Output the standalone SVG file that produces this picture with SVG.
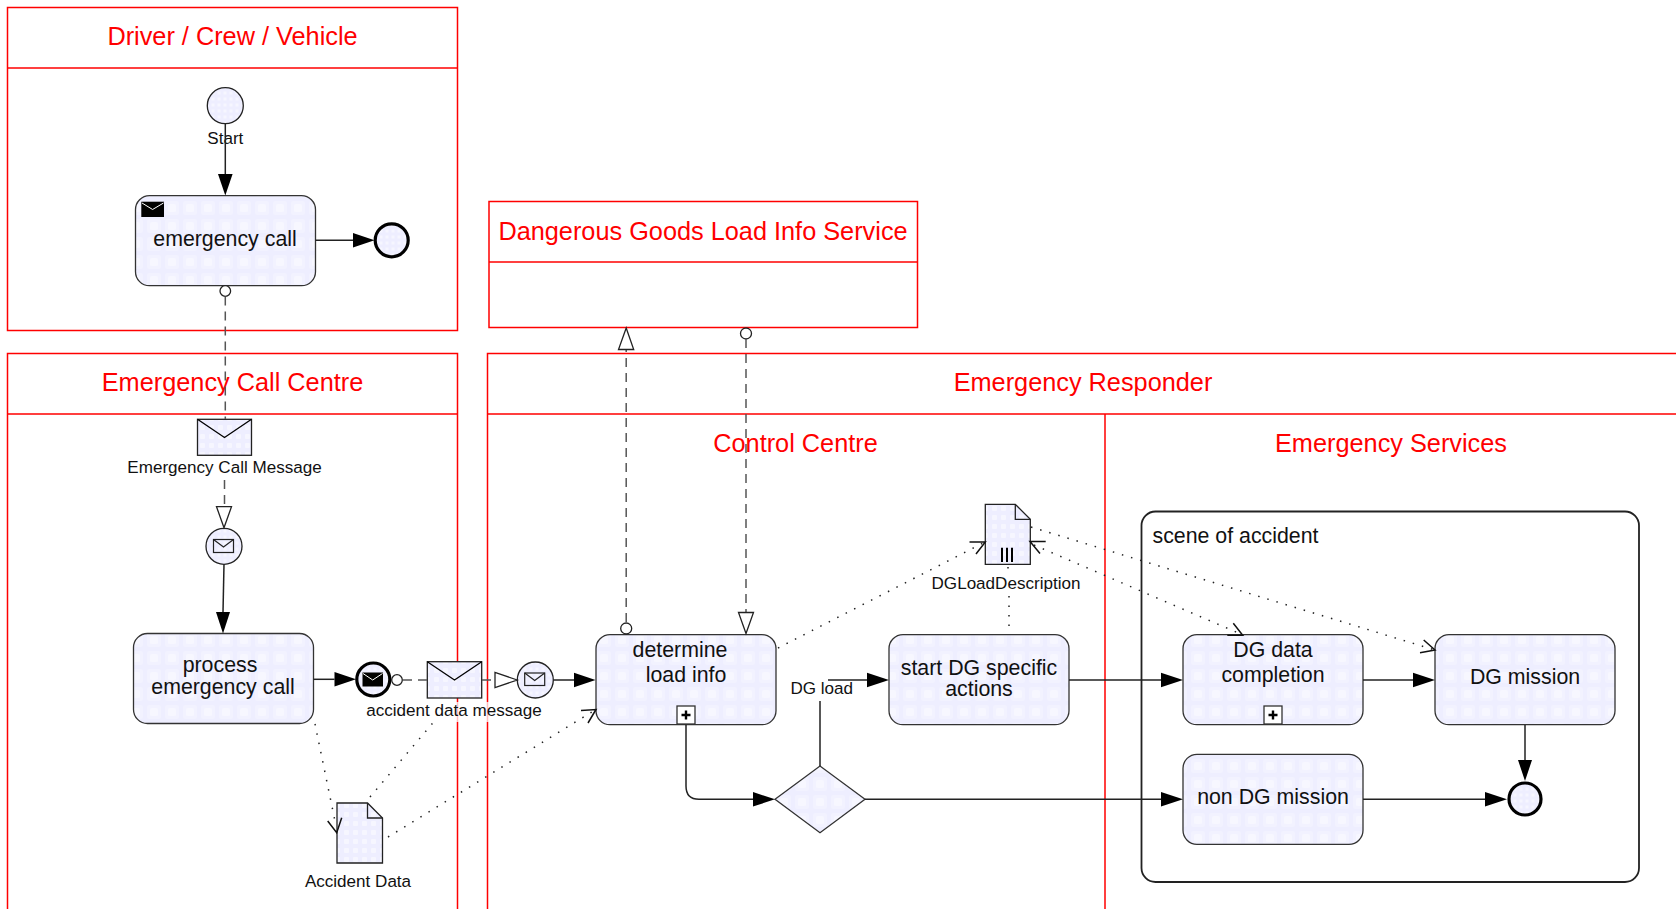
<svg xmlns="http://www.w3.org/2000/svg" width="1676" height="909" viewBox="0 0 1676 909">
<style>
text{font-family:"Liberation Sans",Arial,sans-serif;fill:#111}
.t{font-size:21.33px;text-anchor:middle}
.l{font-size:17.07px;text-anchor:middle}
.p{font-size:25.3px;text-anchor:middle;fill:#ff0000}
.pool{fill:none;stroke:#f00;stroke-width:1.5}
.task{fill:url(#g);stroke:#333;stroke-width:1.3}
.doc{fill:url(#gm);stroke:#222;stroke-width:1.3}
.ev{fill:url(#gs);stroke:#222;stroke-width:1.3}
.end{fill:url(#gs);stroke:#000;stroke-width:3.2}
.flow{fill:none;stroke:#222;stroke-width:1.5}
.msg{fill:none;stroke:#555;stroke-width:1.5;stroke-dasharray:9 6}
.dot{fill:none;stroke:#222;stroke-width:1.5;stroke-dasharray:1.5 8}
.bar{fill:none;stroke:#111;stroke-width:1.5}
.o{fill:#fff;stroke:#222;stroke-width:1.3}
.ah{fill:#000;stroke:none}
</style>
<defs>
<pattern id="g" width="18" height="18" patternUnits="userSpaceOnUse" x="1" y="1"><rect width="18" height="18" fill="#eeeeff"/><rect x="2" y="2" width="14" height="14" rx="2" fill="#f2f2ff"/><rect x="5" y="5" width="8" height="8" rx="1.5" fill="#f7f7ff"/></pattern>
<pattern id="gm" width="9" height="9" patternUnits="userSpaceOnUse"><rect width="9" height="9" fill="#eeeeff"/><rect x="2" y="2" width="5" height="5" rx="1" fill="#f6f6ff"/></pattern>
<pattern id="gs" width="6" height="6" patternUnits="userSpaceOnUse"><rect width="6" height="6" fill="#eeeeff"/><rect x="1.5" y="1.5" width="3" height="3" fill="#f6f6ff"/></pattern>
</defs>
<g id="pools">
<g id="pool-driver"><rect class="pool" x="7.5" y="7.5" width="450" height="323"/><path class="pool" d="M7.5 68H457.5"/><text class="p" x="232.5" y="45">Driver / Crew / Vehicle</text></g>
<g id="pool-call-centre"><path class="pool" d="M7.5 920V353.5H457.5V920M7.5 414H457.5"/><text class="p" x="232.5" y="391">Emergency Call Centre</text></g>
<g id="pool-dg-service"><rect class="pool" x="489" y="201.5" width="428.5" height="126"/><path class="pool" d="M489 262H917.5"/><text class="p" x="703" y="240">Dangerous Goods Load Info Service</text></g>
<g id="pool-responder"><path class="pool" d="M487.5 920V353.5H1690M487.5 414H1690M1105 414V920"/><text class="p" x="1083" y="391">Emergency Responder</text><text class="p" x="795.5" y="452">Control Centre</text><text class="p" x="1391" y="452">Emergency Services</text></g>
</g>
<g id="group-scene"><rect x="1141.5" y="511.5" width="497.5" height="370.5" rx="14" fill="none" stroke="#222" stroke-width="1.8"/><text x="1152.5" y="542.7" style="font-size:21.33px">scene of accident</text></g>
<g id="start"><circle class="ev" cx="225.3" cy="105.7" r="18"/><text class="l" x="225.3" y="143.5">Start</text></g>
<g id="emergency-call"><rect class="task" x="135.5" y="195.7" width="180" height="90" rx="14"/><rect x="141.3" y="201.7" width="22.7" height="15.3" fill="#000"/><path d="M142 203L152.6 209.5L163.5 203" fill="none" stroke="#fff"/><text class="t" x="225" y="245.7">emergency call</text></g>
<g id="end-driver"><circle class="end" cx="391.7" cy="240.3" r="16.5"/></g>
<circle id="emergency-call-port" class="o" cx="225.3" cy="291" r="5.3"/>
<g id="msg-emergency-call"><rect class="doc" stroke="#000" x="197.5" y="419.3" width="54" height="36"/><path d="M197.5 419.3L224.5 437.5L251.5 419.3" fill="none" stroke="#000" stroke-width="1.3"/><text class="l" x="224.5" y="472.7">Emergency Call Message</text></g>
<g id="catch-emergency-call"><circle class="ev" cx="224" cy="546.3" r="18"/><rect x="213.5" y="539.5" width="20" height="13" fill="none" stroke="#222" stroke-width="1.2"/><path d="M213.5 539.5L223.5 547L233.5 539.5" fill="none" stroke="#222" stroke-width="1.2"/></g>
<g id="process-emergency-call"><rect class="task" x="133.5" y="633.5" width="180" height="90" rx="14"/><text class="t" x="220" y="672">process</text><text class="t" x="223" y="694">emergency call</text></g>
<g id="end-throw"><circle class="end" cx="373.3" cy="679.5" r="16.5"/><rect x="362.5" y="672.5" width="20.5" height="14" fill="#000"/><path d="M363 673.5L372.7 680L382.5 673.5" fill="none" stroke="#fff"/></g>
<circle id="end-throw-port" class="o" cx="397" cy="680" r="5.3"/>
<g id="msg-accident"><rect class="doc" x="427.3" y="661.7" width="54.4" height="36.3"/><path d="M427.3 661.7L454.5 680L481.7 661.7" fill="none" stroke="#000" stroke-width="1.3"/><rect x="365" y="702" width="180" height="20" fill="#fff" opacity=".75"/><text class="l" x="454" y="716">accident data message</text></g>
<g id="catch-accident"><circle class="ev" cx="535.3" cy="680" r="18"/><rect x="524.7" y="673" width="20" height="12.5" fill="none" stroke="#222" stroke-width="1.2"/><path d="M524.7 673L534.7 680.5L544.7 673" fill="none" stroke="#222" stroke-width="1.2"/></g>
<g id="accident-data"><path class="doc" d="M337 803H367.5L382.5 818V863H337Z"/><path d="M367.5 803V818H382.5" fill="none" stroke="#222" stroke-width="1.3"/><text class="l" x="358" y="886.5">Accident Data</text></g>
<g id="determine-load-info"><rect class="task" x="596" y="634.7" width="180" height="90" rx="14"/><text class="t" x="680" y="657">determine</text><text class="t" x="686" y="682">load info</text><rect x="677" y="706" width="18" height="18" fill="#fff" stroke="#333" stroke-width="1.3"/><path d="M686 710.5V719.5M681.5 715H690.5" stroke="#000" stroke-width="2.4"/></g>
<circle id="determine-port-up" class="o" cx="626.2" cy="628.5" r="5.5"/>
<circle id="dg-service-port" class="o" cx="746" cy="333.5" r="5.5"/>
<g id="gateway"><path class="task" d="M775 799.3L820 766L865 799.3L820 832.7Z"/></g>
<text id="dg-load-label" class="l" x="821.7" y="694">DG load</text>
<g id="start-dg-actions"><rect class="task" x="889" y="634.7" width="180" height="90" rx="14"/><text class="t" x="979" y="675">start DG specific</text><text class="t" x="979" y="695.7">actions</text></g>
<g id="dg-load-description"><path class="doc" d="M985.3 504.3H1015.3L1030.3 519.3V564.3H985.3Z"/><path d="M1015.3 504.3V519.3H1030.3" fill="none" stroke="#222" stroke-width="1.3"/><path d="M1002 547.7V562M1007 547.7V562M1012 547.7V562" stroke="#000" stroke-width="2"/><text class="l" x="1006" y="589.3">DGLoadDescription</text></g>
<g id="dg-data-completion"><rect class="task" x="1183" y="634.7" width="180" height="90" rx="14"/><text class="t" x="1273" y="657">DG data</text><text class="t" x="1273" y="682">completion</text><rect x="1264" y="706" width="18" height="18" fill="#fff" stroke="#333" stroke-width="1.3"/><path d="M1273 710.5V719.5M1268.5 715H1277.5" stroke="#000" stroke-width="2.4"/></g>
<g id="dg-mission"><rect class="task" x="1435" y="634.7" width="180" height="90" rx="14"/><text class="t" x="1525" y="684">DG mission</text></g>
<g id="non-dg-mission"><rect class="task" x="1183" y="754.3" width="180" height="90" rx="14"/><text class="t" x="1273" y="804">non DG mission</text></g>
<g id="end-scene"><circle class="end" cx="1525" cy="799" r="16"/></g>
<g id="connectors">
<path class="flow" d="M225.3 124V174"/><path class="ah" d="M225.3 195.5L218 174H232.6Z"/>
<path class="flow" d="M315.5 240.3H353"/><path class="ah" d="M374.5 240.3L353 233V247.6Z"/>
<path class="msg" d="M225.3 296.5V419M224.5 480V506.5"/><path class="o" d="M224 527.7L216.5 506.7H231.5Z"/>
<path class="flow" d="M224 564.5L223 612" stroke-width="2"/><path class="ah" d="M223 633.5L216 612H230Z"/>
<path class="flow" d="M313.5 679.3H334.5"/><path class="ah" d="M356 679.3L334.5 672V686.6Z"/>
<path class="msg" d="M403 680H427M482 680H495"/><path class="o" d="M517.3 680L495 672.5V687.5Z"/>
<path class="flow" d="M553.5 680H574"/><path class="ah" d="M595.5 680L574 672.7V687.3Z"/>
<path class="msg" d="M626.2 622V349"/><path class="o" d="M626.2 328L618.5 349.5H633.7Z"/>
<path class="msg" d="M746 339V612"/><path class="o" d="M746 633.5L738.5 612.5H753.5Z"/>
<path class="flow" d="M686 724.7V786Q686 799.3 699 799.3H753"/><path class="ah" d="M775 799.3L753 792V806.6Z"/>
<path class="flow" d="M820 766V701M828 680H867"/><path class="ah" d="M889 680L867 672.7V687.3Z"/>
<path class="flow" d="M1069 680H1161"/><path class="ah" d="M1183 680L1161 672.7V687.3Z"/>
<path class="flow" d="M865 799.3H1161"/><path class="ah" d="M1183 799.3L1161 792V806.6Z"/>
<path class="flow" d="M1363 680H1413"/><path class="ah" d="M1435 680L1413 672.7V687.3Z"/>
<path class="flow" d="M1525 725V760" stroke-width="2"/><path class="ah" d="M1525 781L1518 760H1532Z"/>
<path class="flow" d="M1363 799.3H1485"/><path class="ah" d="M1507 799.3L1485 792V806.6Z"/>
<path class="dot" d="M315 724L336 826"/><path class="bar" d="M327.7 821L336.7 832.7L341.7 817.7"/>
<path class="dot" d="M370 797L437 718"/>
<path class="dot" d="M388 837L595 710"/><path class="bar" d="M581 710.5L596 709.5L588 723"/>
<path class="dot" d="M778 648L985 542"/><path class="bar" d="M969.5 542H985.3L976 554"/>
<path class="dot" d="M1008 567V572M1009 596V628"/>
<path class="dot" d="M1034 545L1243 635"/><path class="bar" d="M1045.7 541.5H1030L1040 553.5"/><path class="bar" d="M1227.3 635.3H1242.7L1233.3 623.3"/>
<path class="dot" d="M1031 527L1435 650"/><path class="bar" d="M1420 652.7L1435 650L1423.7 640"/>
</g>
</svg>
